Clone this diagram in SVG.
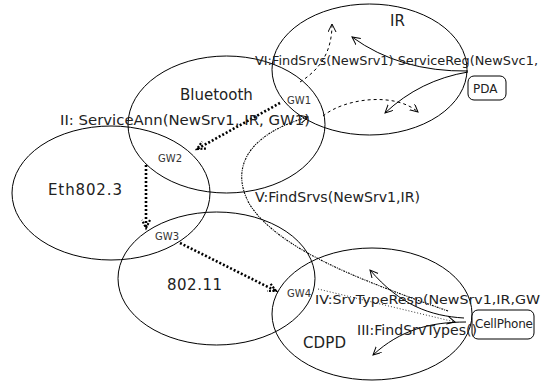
<svg xmlns="http://www.w3.org/2000/svg" width="548" height="382" viewBox="0 0 548 382">
<defs>
<style>
.net{fill:none;stroke:#000;stroke-width:1}
.lbl{font-family:"DejaVu Sans",sans-serif;font-size:15px;fill:#222}
.msg{font-family:"DejaVu Sans",sans-serif;font-size:14px;fill:#222}
.gw{font-family:"DejaVu Sans",sans-serif;font-size:10px;fill:#333}
.dev{font-family:"DejaVu Sans",sans-serif;font-size:12px;fill:#222}
.box{fill:#fff;stroke:#000;stroke-width:1}
.thick{fill:none;stroke:#000;stroke-width:2.6;stroke-dasharray:2,2;marker-end:url(#ah2)}
.sol{fill:none;stroke:#000;stroke-width:1;marker-end:url(#ah)}
.dash{fill:none;stroke:#000;stroke-width:1;stroke-dasharray:3,3;marker-end:url(#ah)}
.dd{fill:none;stroke:#000;stroke-width:1.1;stroke-dasharray:2,1,1,1;marker-end:url(#ah)}
.dot{fill:none;stroke:#000;stroke-width:0.8;stroke-dasharray:1,2;marker-end:url(#ah)}
</style>
<marker id="ah" markerUnits="userSpaceOnUse" markerWidth="10" markerHeight="10" refX="8" refY="4" orient="auto"><path d="M0,0 L8,4 L0,8" fill="none" stroke="#000" stroke-width="1"/></marker>
<marker id="ah2" markerUnits="userSpaceOnUse" markerWidth="12" markerHeight="12" refX="9" refY="5" orient="auto"><path d="M1,1 L9,5 L1,9" fill="none" stroke="#000" stroke-width="2.2" stroke-dasharray="2,1.5"/></marker>
</defs>
<rect width="548" height="382" fill="#fff"/>

<g id="IR"><ellipse class="net" cx="369.5" cy="69.5" rx="97.5" ry="65.5"/><text class="lbl" x="390" y="26">IR</text></g>
<g id="Bluetooth"><ellipse class="net" cx="226.5" cy="124.5" rx="98.5" ry="68.5"/><text class="lbl" x="180" y="100">Bluetooth</text></g>
<g id="Eth8023"><ellipse class="net" cx="111" cy="193" rx="99" ry="67"/><text class="lbl" x="48" y="195" textLength="74">Eth802.3</text></g>
<g id="n80211"><ellipse class="net" cx="216.5" cy="278.5" rx="98.5" ry="66.5"/><text class="lbl" x="167" y="290" textLength="55">802.11</text></g>
<g id="CDPD"><ellipse class="net" cx="372" cy="314" rx="100" ry="66"/><text class="lbl" x="303" y="348" textLength="43">CDPD</text></g>

<g id="GW1"><text class="gw" x="287" y="104">GW1</text></g>
<g id="GW2"><text class="gw" x="158" y="162">GW2</text></g>
<g id="GW3"><text class="gw" x="155" y="240">GW3</text></g>
<g id="GW4"><text class="gw" x="287" y="297">GW4</text></g>

<g id="PDA"><rect class="box" x="468" y="76" width="38" height="24" rx="6"/><text class="dev" x="473" y="93">PDA</text></g>
<g id="CellPhone"><rect class="box" x="472" y="310" width="62" height="29" rx="6"/><text class="dev" x="475" y="328" textLength="58">CellPhone</text></g>

<g id="connectors">
<path class="thick" d="M280,103 L197,149"/>
<path class="thick" d="M146,165 L146,228"/>
<path class="thick" d="M180,243 L276,291"/>
<path class="dd" d="M448,311 C360,280 280,250 250,205 C230,170 245,135 308,117"/>
<path class="dot" d="M318,289 L455,322"/>
<path class="dash" d="M300,82 C322,68 332,50 332,24"/>
<path class="dash" d="M323,116 C345,98 395,92 418,112"/>
<path class="sol" d="M468,71 Q400,72 352,37"/>
<path class="sol" d="M468,72 Q420,80 385,113"/>
<path class="sol" d="M464,318 C430,316 400,305 370,270"/>
<path class="sol" d="M466,322 C430,322 400,330 373,355"/>
</g>

<g id="labels">
<text class="msg" x="255" y="65" style="font-size:13px" textLength="283" lengthAdjust="spacingAndGlyphs">VI:FindSrvs(NewSrv1) ServiceReg(NewSvc1,</text>
<text class="msg" x="60" y="125" textLength="250" lengthAdjust="spacingAndGlyphs">II: ServiceAnn(NewSrv1, IR, GW1)</text>
<text class="msg" x="255" y="202" textLength="165" lengthAdjust="spacingAndGlyphs">V:FindSrvs(NewSrv1,IR)</text>
<text class="msg" x="315" y="304" style="font-size:13px" textLength="225" lengthAdjust="spacingAndGlyphs">IV:SrvTypeResp(NewSrv1,IR,GW</text>
<text class="msg" x="357" y="335" textLength="120" lengthAdjust="spacingAndGlyphs">III:FindSrvTypes()</text>
</g>
</svg>
